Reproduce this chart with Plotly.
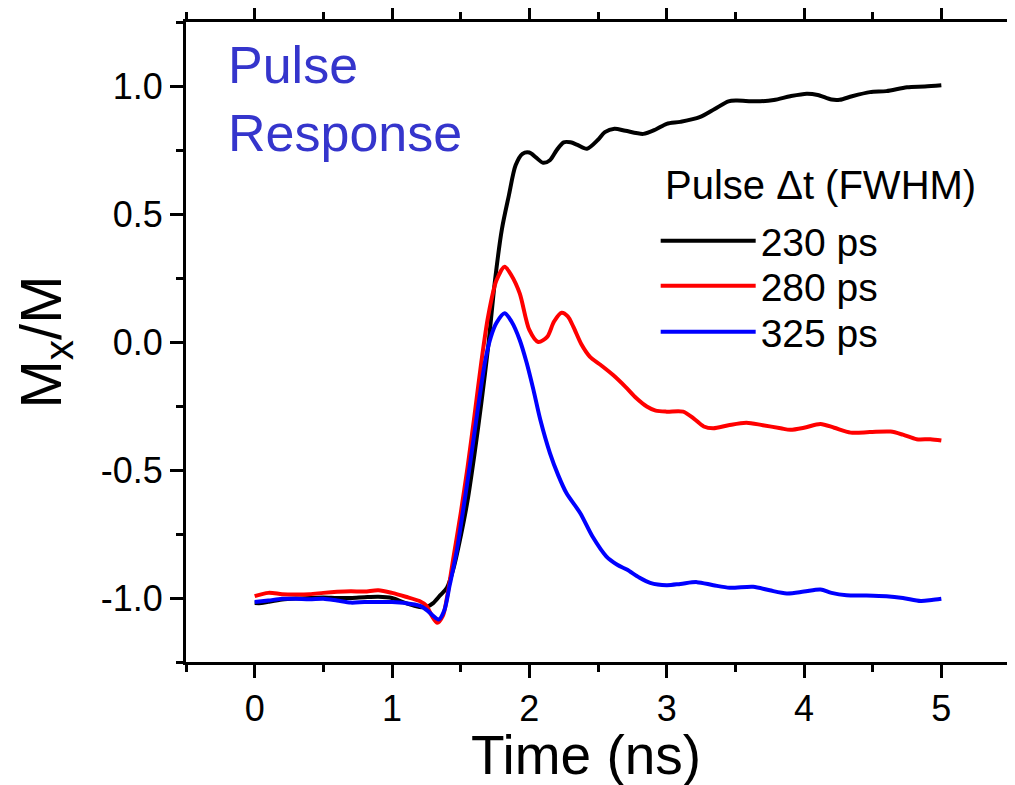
import plotly.graph_objects as go

# ---- data ----
t_230 = [0.00, 0.05, 0.10, 0.20, 0.30, 0.40, 0.50, 0.60, 0.70, 0.80, 0.90, 1.00, 1.10, 1.20, 1.25,
         1.30, 1.35, 1.40, 1.45, 1.50, 1.55, 1.60, 1.65, 1.70, 1.75, 1.80, 1.85, 1.90, 1.95, 2.00,
         2.05, 2.10, 2.15, 2.20, 2.25, 2.30, 2.35, 2.42, 2.50, 2.55, 2.62, 2.70, 2.83, 2.92, 3.00,
         3.10, 3.24, 3.35, 3.45, 3.51, 3.65, 3.78, 3.90, 4.02, 4.10, 4.20, 4.26, 4.35, 4.48, 4.60,
         4.75, 4.88, 5.00]
m_230 = [-1.02, -1.02, -1.015, -1.006, -1.002, -1.0, -0.998, -1.0, -1.0, -0.997, -0.995, -1.0, -1.02,
         -1.035, -1.035, -1.02, -0.99, -0.96, -0.88, -0.76, -0.62, -0.44, -0.24, -0.02, 0.24, 0.44,
         0.57, 0.69, 0.735, 0.74, 0.72, 0.70, 0.71, 0.75, 0.78, 0.78, 0.77, 0.755, 0.79, 0.82, 0.833,
         0.825, 0.813, 0.83, 0.852, 0.86, 0.878, 0.91, 0.94, 0.943, 0.94, 0.945, 0.96, 0.97, 0.965,
         0.947, 0.946, 0.96, 0.976, 0.98, 0.995, 0.998, 1.003]

t_280 = [0.00, 0.10, 0.20, 0.30, 0.40, 0.50, 0.60, 0.70, 0.80, 0.90, 1.00, 1.10, 1.20, 1.25, 1.29,
         1.33, 1.37, 1.40, 1.445, 1.50, 1.55, 1.60, 1.65, 1.70, 1.76, 1.82, 1.87, 1.93, 2.00, 2.065,
         2.13, 2.18, 2.235, 2.28, 2.32, 2.38, 2.44, 2.52, 2.61, 2.70, 2.78, 2.855, 2.92, 3.00, 3.12,
         3.20, 3.27, 3.34, 3.45, 3.58, 3.70, 3.83, 3.90, 4.00, 4.12, 4.22, 4.34, 4.48, 4.63, 4.72,
         4.82, 4.92, 5.00]
m_280 = [-0.993, -0.98, -0.985, -0.986, -0.985, -0.98, -0.976, -0.974, -0.975, -0.97, -0.98, -0.995,
         -1.012, -1.03, -1.07, -1.097, -1.07, -1.0, -0.85, -0.67, -0.49, -0.29, -0.08, 0.10, 0.24,
         0.294, 0.26, 0.19, 0.047, 0.0, 0.02, 0.08, 0.114, 0.10, 0.06, -0.01, -0.057, -0.09, -0.129,
         -0.175, -0.22, -0.252, -0.268, -0.272, -0.272, -0.30, -0.33, -0.337, -0.325, -0.315, -0.325,
         -0.337, -0.343, -0.335, -0.32, -0.335, -0.354, -0.352, -0.35, -0.362, -0.38, -0.38, -0.385]

t_325 = [0.00, 0.10, 0.20, 0.30, 0.40, 0.50, 0.60, 0.70, 0.80, 0.90, 1.00, 1.10, 1.20, 1.26, 1.30,
         1.34, 1.38, 1.42, 1.47, 1.52, 1.57, 1.62, 1.68, 1.72, 1.76, 1.82, 1.87, 1.93, 1.98, 2.03,
         2.08, 2.15, 2.21, 2.27, 2.37, 2.46, 2.56, 2.64, 2.71, 2.80, 2.88, 3.00, 3.10, 3.22, 3.34,
         3.46, 3.63, 3.75, 3.875, 4.00, 4.12, 4.20, 4.31, 4.45, 4.60, 4.72, 4.85, 4.93, 5.00]
m_325 = [-1.016, -1.01, -1.003, -1.003, -1.005, -1.003, -1.01, -1.018, -1.016, -1.016, -1.016, -1.02,
         -1.03, -1.05, -1.07, -1.084, -1.05, -0.95, -0.82, -0.65, -0.47, -0.28, -0.07, 0.02, 0.074,
         0.112, 0.08, 0.008, -0.08, -0.187, -0.304, -0.434, -0.52, -0.59, -0.668, -0.76, -0.837,
         -0.87, -0.889, -0.92, -0.941, -0.95, -0.945, -0.938, -0.95, -0.96, -0.956, -0.97, -0.982,
         -0.975, -0.967, -0.98, -0.989, -0.99, -0.993, -1.0, -1.012, -1.008, -1.003]

series_names = ["230 ps", "280 ps", "325 ps"]
series_colors = ["#000000", "#FF0000", "#0000FF"]
legend_title = "Pulse \u0394t (FWHM)"
x_title = "Time (ns)"
x_ticks = [0, 1, 2, 3, 4, 5]
y_ticks = [-1.0, -0.5, 0.0, 0.5, 1.0]
y_ticktext = ["-1.0", "-0.5", "0.0", "0.5", "1.0"]
right_ticks = [1, 2, 3, 4, 5, 6, 7, 8, 9]

FONT = "Liberation Sans, Arial, sans-serif"

legend_ids = ["legend", "legend2", "legend3"]
legend_rows_y = [0.658, 0.5875, 0.5156]   # paper positions of the legend rows

fig = go.Figure()
for t, m, name, col, lg in zip([t_230, t_280, t_325], [m_230, m_280, m_325],
                               series_names, series_colors, legend_ids):
    fig.add_trace(go.Scatter(x=t, y=m, mode="lines", name=name, legend=lg,
                             line=dict(color=col, width=4, shape="spline", smoothing=0.8)))
# empty trace so the right-hand (unlabelled) axis gets drawn
fig.add_trace(go.Scatter(x=[None], y=[None], yaxis="y2", showlegend=False, hoverinfo="skip"))

axis_common = dict(showline=True, linecolor="black", linewidth=3, ticks="outside",
                   tickcolor="black", tickwidth=3, ticklen=13, showgrid=False, zeroline=False,
                   automargin=False,
                   tickfont=dict(family=FONT, size=36, color="black"))

legend_style = dict(x=0.570, xanchor="left", yanchor="middle", bgcolor="rgba(0,0,0,0)",
                    borderwidth=0, itemwidth=95, font=dict(family=FONT, size=39, color="black"))

fig.update_layout(
    width=1015, height=785,
    margin=dict(l=178, r=13, t=14, b=131),
    paper_bgcolor="white", plot_bgcolor="white",
    font=dict(family=FONT, color="black"),
    xaxis=dict(range=[-0.5, 5.5], tickvals=x_ticks, mirror="ticks",
               minor=dict(dtick=0.5, tick0=0, ticks="outside", ticklen=7, tickwidth=3, tickcolor="black"),
               **axis_common),
    yaxis=dict(range=[-1.25, 1.25], tickvals=y_ticks, ticktext=y_ticktext, mirror=True,
               minor=dict(dtick=0.25, tick0=0, ticks="outside", ticklen=7, tickwidth=3, tickcolor="black"),
               title=dict(text="M<sub>x</sub>/M", font=dict(family=FONT, size=58), standoff=30),
               **axis_common),
    yaxis2=dict(overlaying="y", side="right", anchor="x", range=[-2.39, 9.965],
                tickvals=right_ticks, showticklabels=False, ticks="outside",
                ticklen=10, tickwidth=3, tickcolor="black", showline=False, showgrid=False,
                zeroline=False, automargin=False),
    legend=dict(y=legend_rows_y[0], **legend_style),
    legend2=dict(y=legend_rows_y[1], **legend_style),
    legend3=dict(y=legend_rows_y[2], **legend_style),
    showlegend=True,
)

# x-axis title (placed as in the reference, slightly left of centre)
fig.add_annotation(xref="paper", yref="paper", x=0.4854, y=-0.146, xanchor="center", yanchor="middle",
                   text=x_title, showarrow=False, font=dict(family=FONT, size=55, color="black"))

# legend heading
fig.add_annotation(xref="paper", yref="paper", x=0.579, y=0.745, xanchor="left", yanchor="middle",
                   text=legend_title, showarrow=False,
                   font=dict(family=FONT, size=40, color="black"))

fig.add_annotation(xref="paper", yref="paper", x=0.048, y=0.981, xanchor="left", yanchor="top",
                   text="Pulse<br>Response", showarrow=False, align="left",
                   font=dict(family=FONT, size=52, color="#3535CC"))

fig.write_html("out.html")
